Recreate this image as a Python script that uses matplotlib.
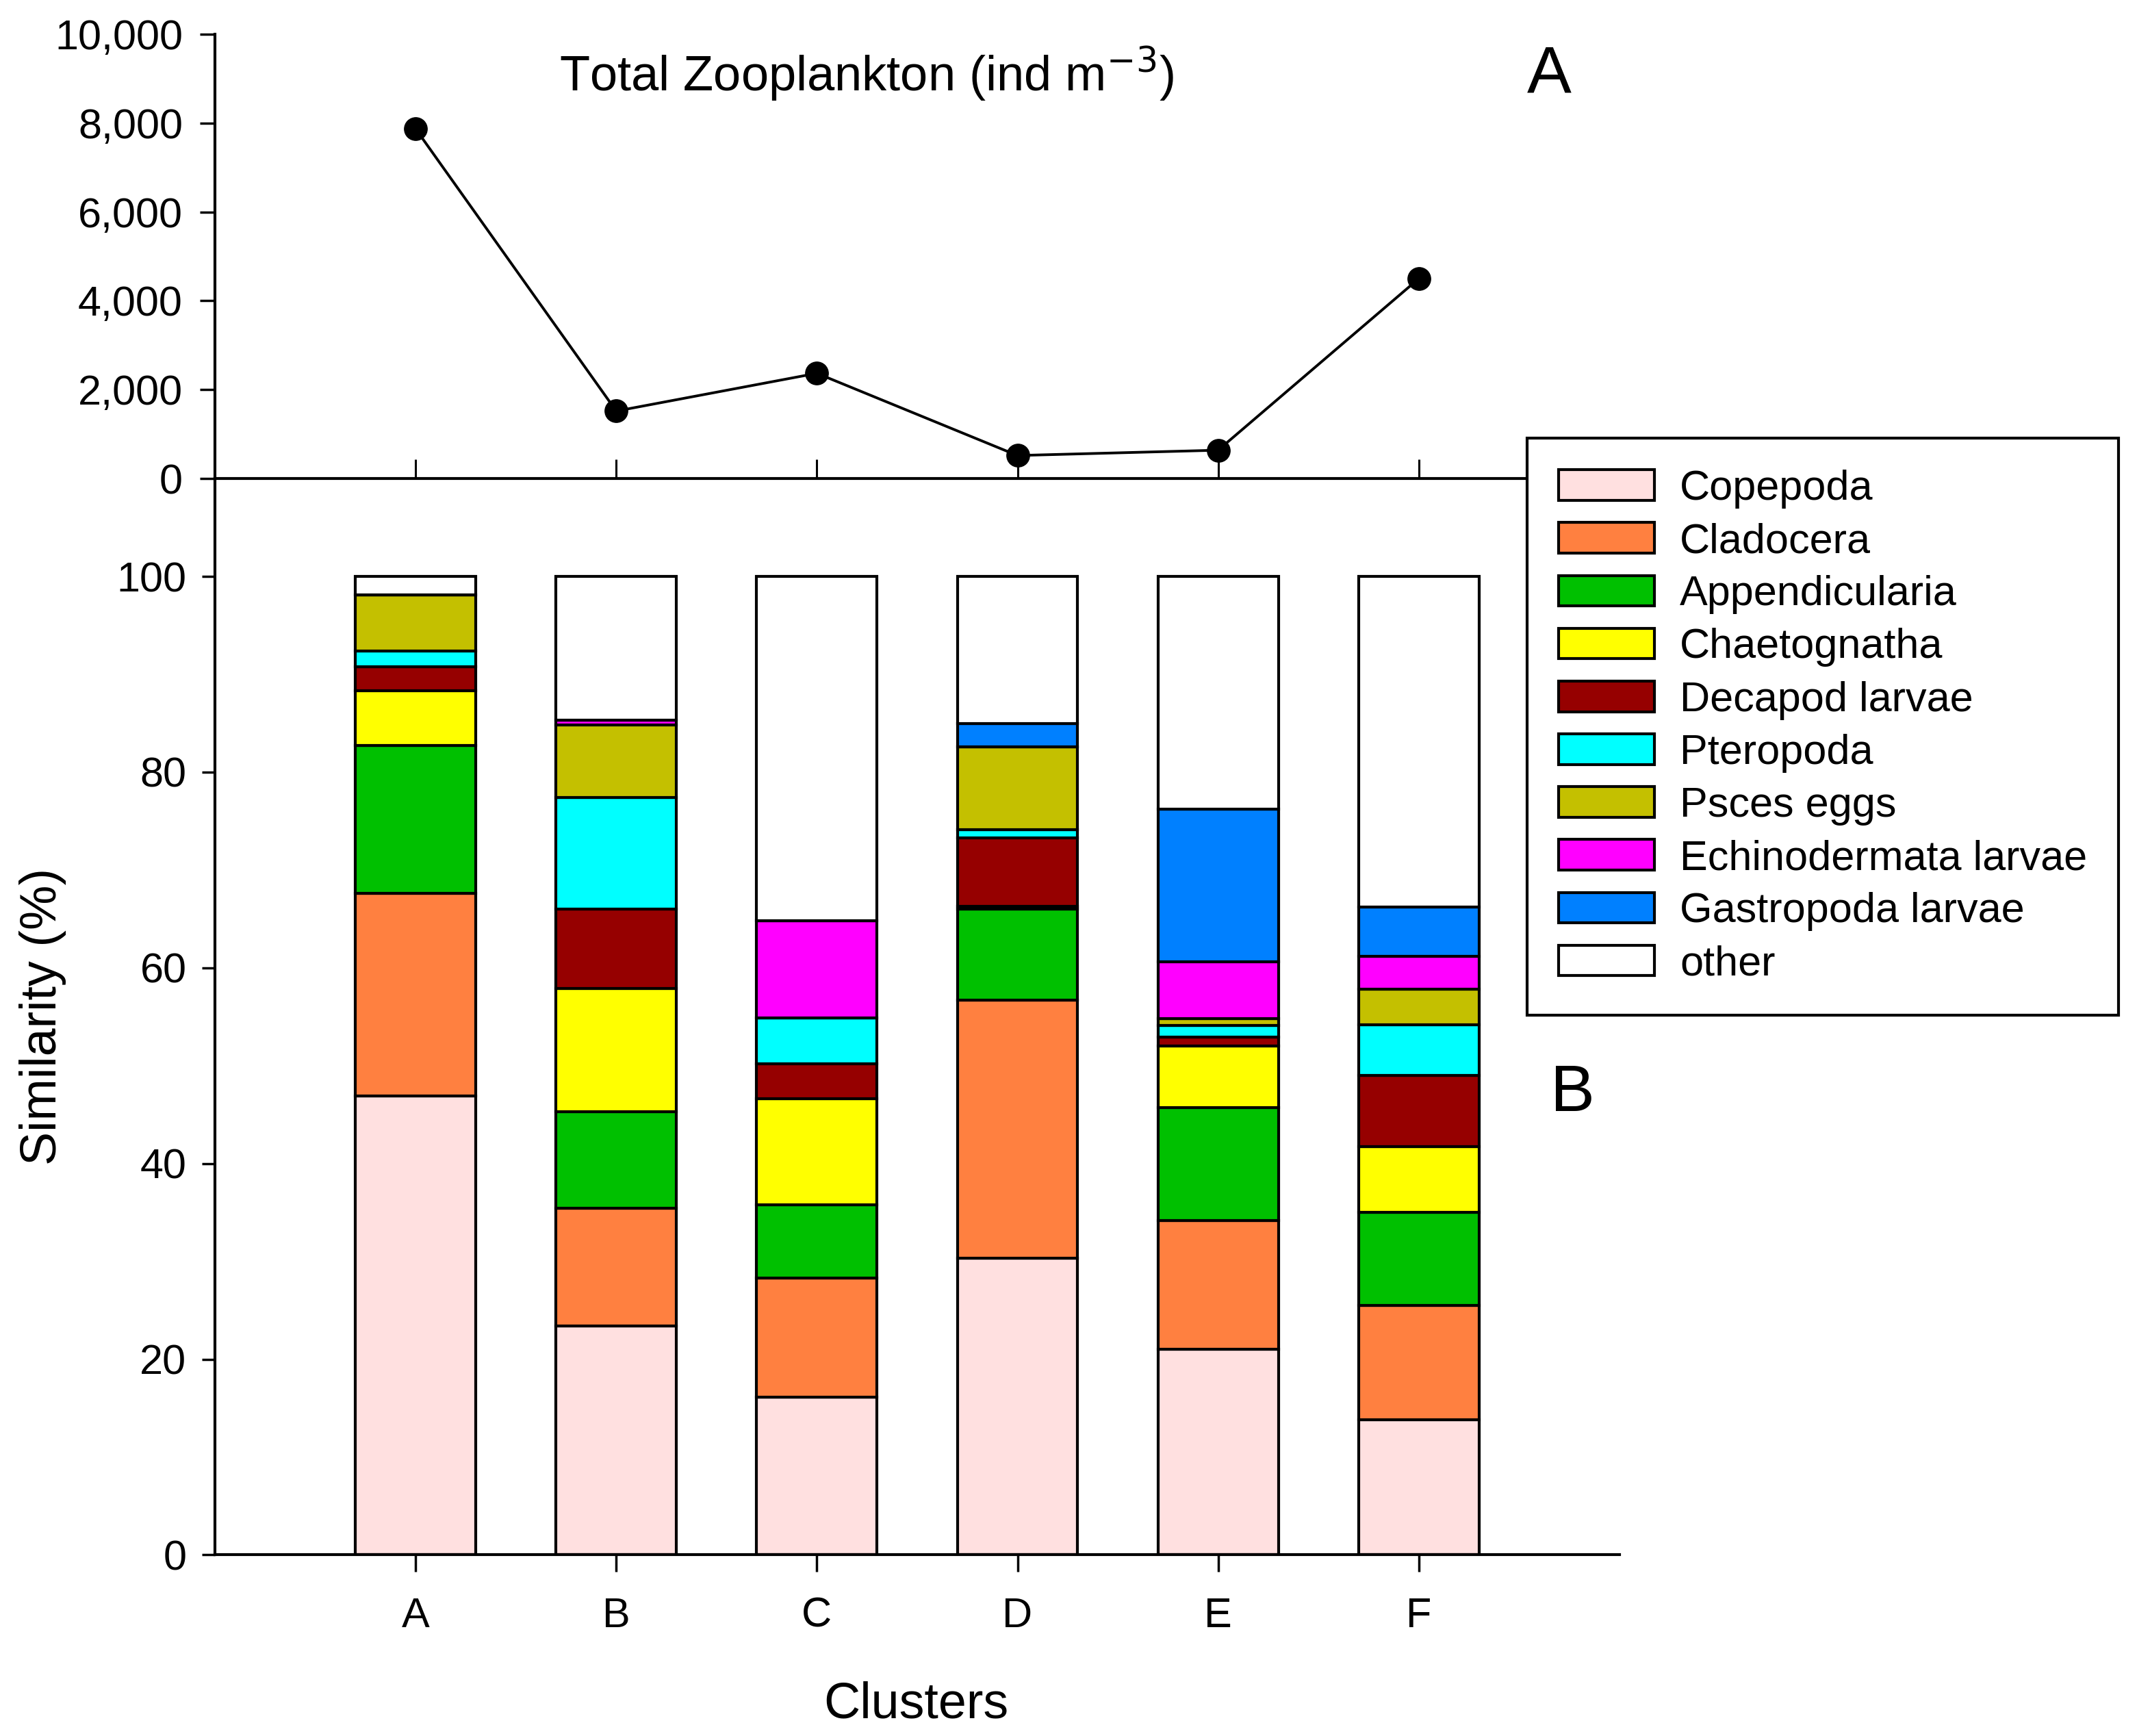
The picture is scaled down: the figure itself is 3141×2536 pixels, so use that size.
import numpy as np
import matplotlib
matplotlib.use('Agg')
from matplotlib import pyplot as plt

plt.rcParams['font.family'] = ['Liberation Sans', 'DejaVu Sans']

# data
clusters = ['A', 'B', 'C', 'D', 'E', 'F']
total_zoo = [7870, 1520, 2370, 520, 640, 4500]  # ind m-3

groups = ['Copepoda', 'Cladocera', 'Appendicularia', 'Chaetognatha', 'Decapod larvae',
          'Pteropoda', 'Psces eggs', 'Echinodermata larvae', 'Gastropoda larvae', 'other']
colors = ['#FFE0E0', '#FF8040', '#00C000', '#FFFF00', '#960000',
          '#00FFFF', '#C4C000', '#FF00FF', '#0080FF', '#FFFFFF']

# similarity contribution (%) per group, one list per cluster A..F
copepoda = [46.9, 23.4, 16.1, 30.3, 21.0, 13.8]
cladocera = [20.7, 12.0, 12.2, 26.4, 13.2, 11.7]
appendicularia = [15.1, 9.9, 7.5, 9.3, 11.5, 9.5]
chaetognatha = [5.6, 12.6, 10.8, 0.3, 6.3, 6.7]
decapod = [2.5, 8.1, 3.6, 7.0, 0.9, 7.3]
pteropoda = [1.6, 11.4, 4.7, 0.8, 1.2, 5.2]
psces_eggs = [5.7, 7.4, 0.0, 8.5, 0.7, 3.6]
echinodermata = [0.0, 0.5, 9.9, 0.0, 5.8, 3.4]
gastropoda = [0.0, 0.0, 0.0, 2.4, 15.6, 5.0]
other = [1.9, 14.7, 35.2, 15.0, 23.8, 33.8]

series = [copepoda, cladocera, appendicularia, chaetognatha, decapod,
          pteropoda, psces_eggs, echinodermata, gastropoda, other]

x = np.arange(len(clusters))

fig = plt.figure(figsize=(31.41, 25.36), dpi=100)
ax2 = fig.add_axes([0.1, 0.1043, 0.6532, 0.62])
ax1 = fig.add_axes([0.1, 0.7243, 0.6532, 0.256], sharex=ax2)

# panel A: total zooplankton
ax1.plot(x, total_zoo, '-', color='black', lw=2.8, marker='o', ms=24, zorder=3, clip_on=False)
ax1.set_ylim(0, 10000)
ax1.set_yticks(np.arange(0, 10001, 2000))
ax1.set_yticklabels(['{:,}'.format(v) for v in range(0, 10001, 2000)])
ax1.spines['top'].set_visible(False)
ax1.spines['right'].set_visible(False)
ax1.spines['left'].set_linewidth(3)
ax1.spines['bottom'].set_linewidth(3)
ax1.tick_params(axis='y', direction='out', length=16, width=2.5, labelsize=44, pad=18)
ax1.tick_params(axis='x', direction='in', length=20, width=2.2, labelbottom=False)
ax1.patch.set_visible(False)

# panel B: stacked bars
handles = []
bottom = np.zeros(len(clusters))
for name, vals, c in zip(groups, series, colors):
    h = ax2.bar(x, vals, width=0.6, bottom=bottom, color=c, edgecolor='black',
                linewidth=3, label=name)
    handles.append(h)
    bottom += np.array(vals)

ax2.set_xlim(-1, 6)
ax2.set_ylim(0, 110)
ax2.set_yticks(np.arange(0, 101, 20))
ax2.set_xticks(x)
ax2.set_xticklabels(clusters)
ax2.spines['top'].set_visible(False)
ax2.spines['right'].set_visible(False)
ax2.spines['left'].set_linewidth(3)
ax2.spines['bottom'].set_linewidth(3)
ax2.tick_params(axis='y', direction='out', length=14, width=2.5, labelsize=44, pad=16)
ax2.tick_params(axis='x', direction='out', length=18, width=2.5, labelsize=44, pad=26)
ax2.patch.set_visible(False)

fig.text(0.02, 0.4143, 'Similarity (%)', rotation=90, ha='center', va='center', fontsize=53)
fig.text(0.426, 0.018, 'Clusters', ha='center', va='center', fontsize=53)
fig.text(0.403, 0.957, r'Total Zooplankton (ind m$^{-3}$)', ha='center', va='center', fontsize=52)
fig.text(0.7207, 0.957, 'A', ha='center', va='center', fontsize=70)
fig.text(0.7315, 0.370, 'B', ha='center', va='center', fontsize=70)

leg = fig.legend(handles, groups, loc='upper left', bbox_to_anchor=(0.7103, 0.7476),
                 fontsize=44, frameon=True, fancybox=False, edgecolor='black',
                 handlelength=2.3, handleheight=0.75, handletextpad=0.6,
                 labelspacing=0.33, borderpad=0.75, borderaxespad=0)
leg.get_frame().set_linewidth(3)
leg.get_frame().set_alpha(1)
leg.set_zorder(10)

fig.savefig('out.png', dpi=100)
